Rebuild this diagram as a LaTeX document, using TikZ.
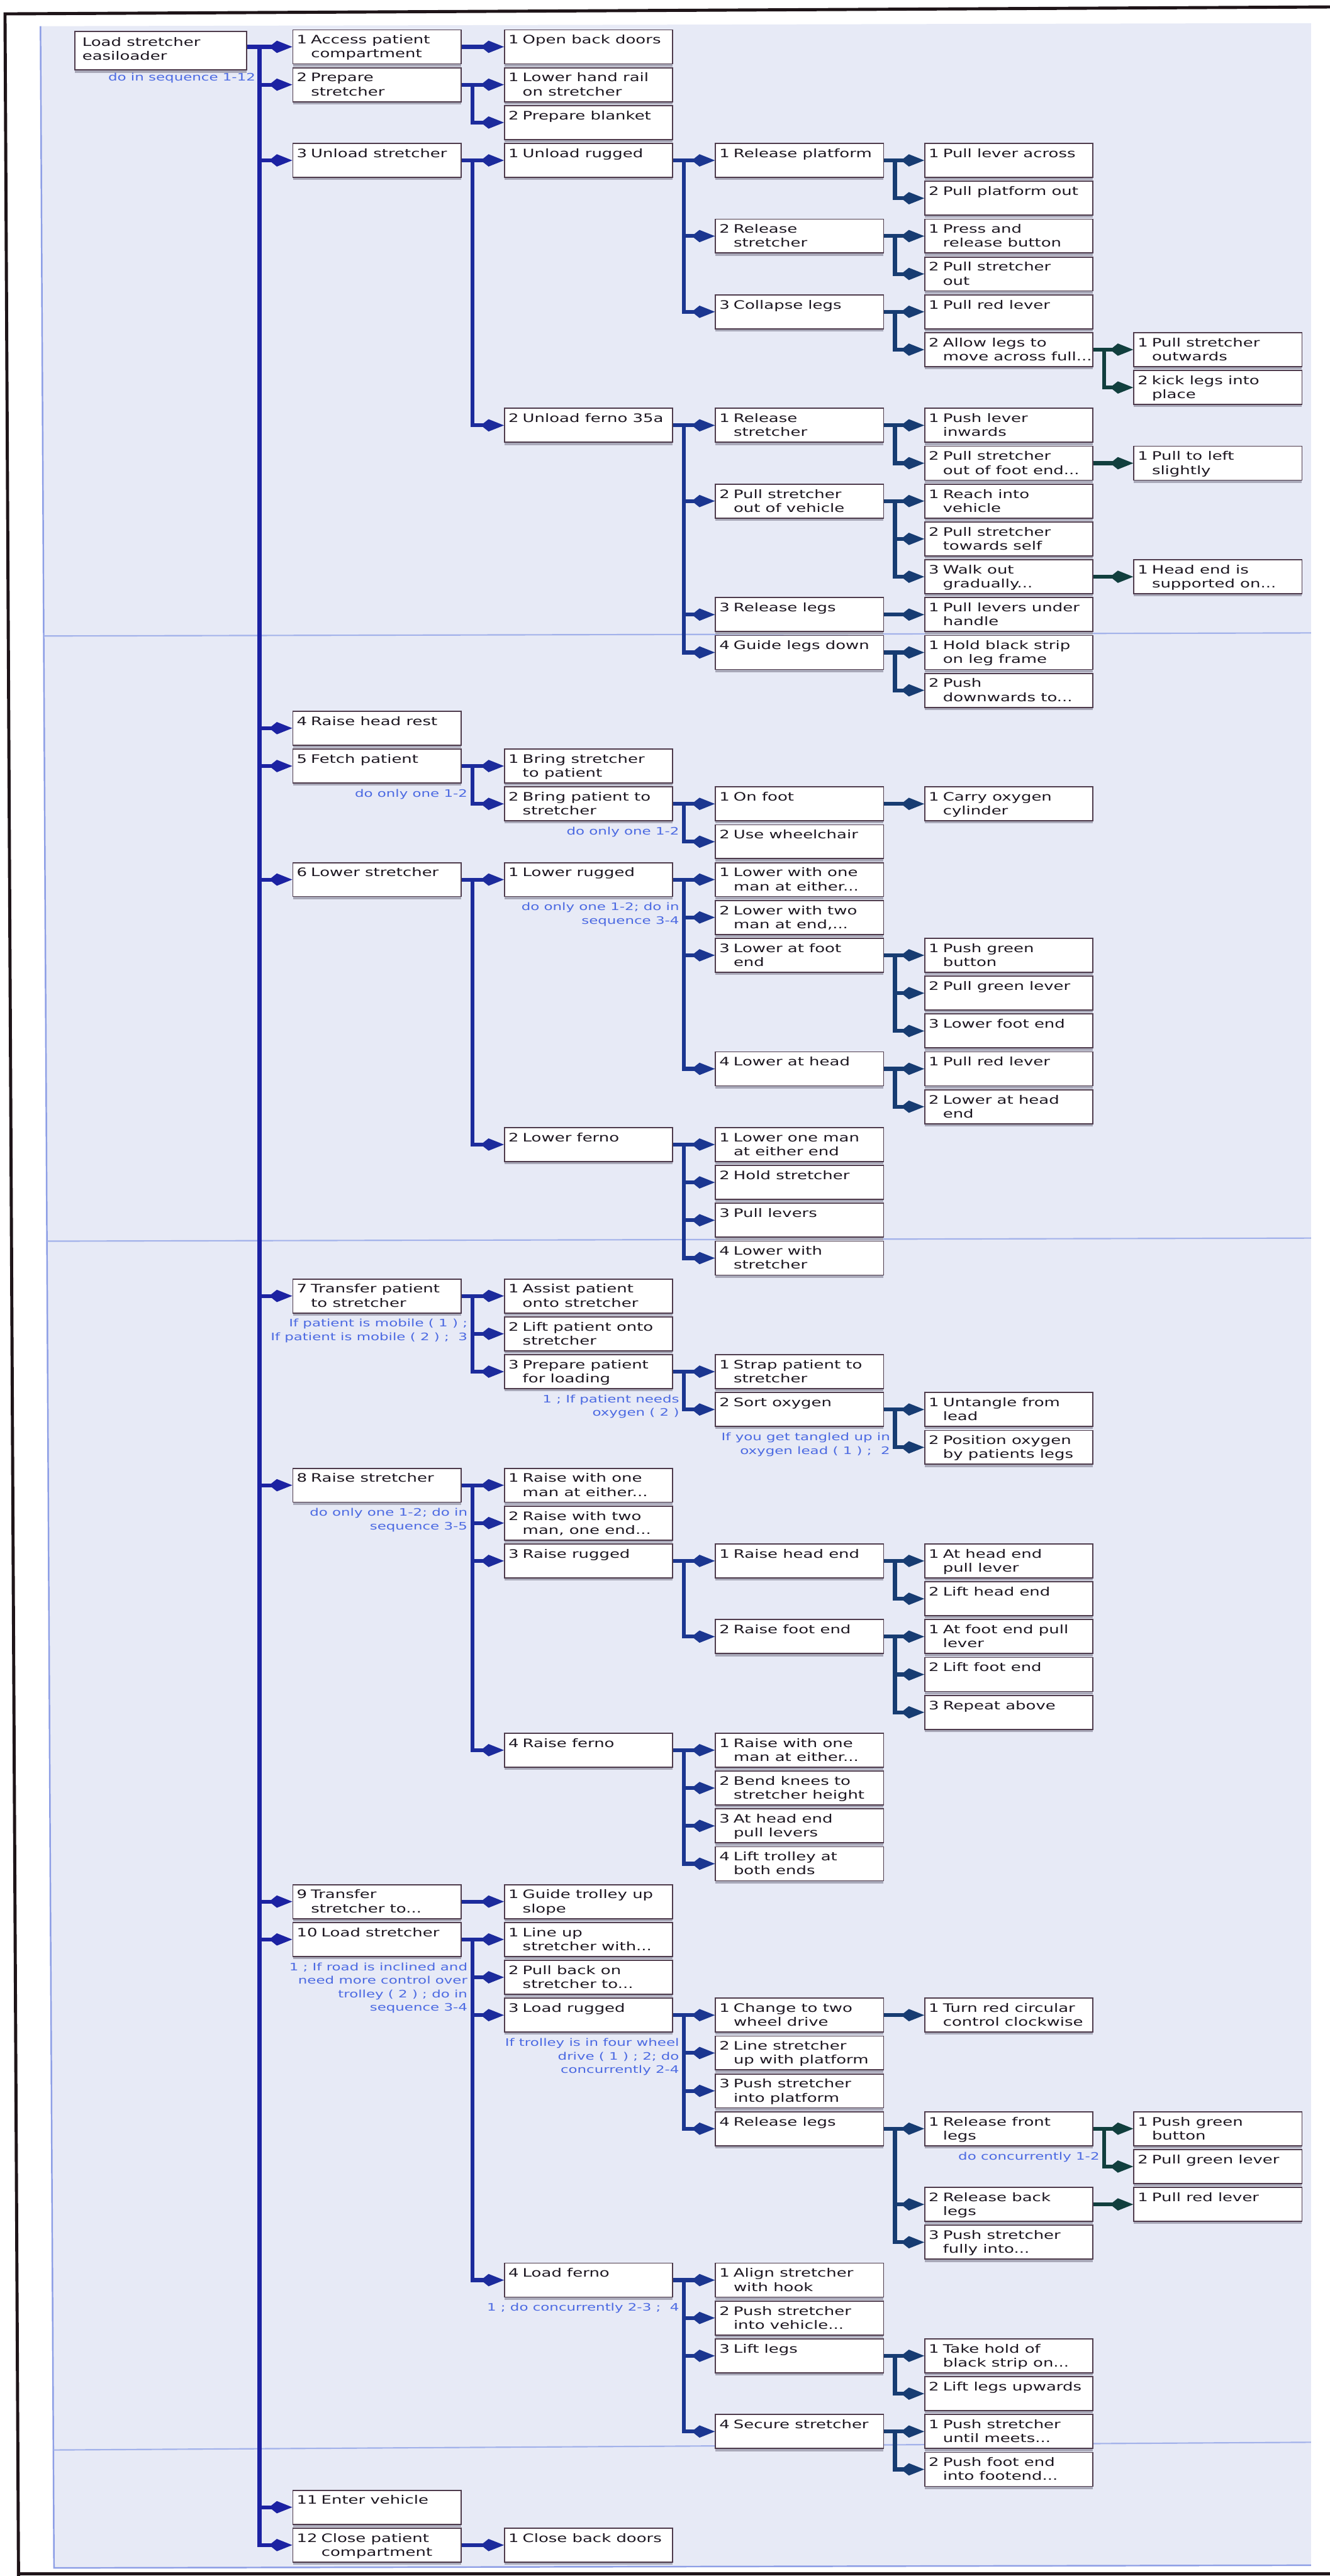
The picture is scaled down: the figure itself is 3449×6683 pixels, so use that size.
\documentclass[tikz,border=0pt]{standalone}
\usepackage{fontspec}
\usetikzlibrary{arrows.meta,shadows,calc}
\newfontfamily\hfont{DejaVu Sans}[FakeStretch=1.4]

\definecolor{panel}{HTML}{E7EAF6}
\definecolor{panedge}{HTML}{8E9FE6}
\definecolor{panline}{HTML}{A3B2EA}
\definecolor{frameblk}{HTML}{1E1418}
\definecolor{boxline}{HTML}{4E3B4C}
\definecolor{boxshadow}{HTML}{A9A9B9}
\definecolor{txt}{HTML}{1C1620}
\definecolor{annblue}{HTML}{4C6AE2}
\definecolor{cz}{HTML}{1C22A2}
\definecolor{ca}{HTML}{1C2B9C}
\definecolor{cb}{HTML}{1B3690}
\definecolor{cc}{HTML}{173C72}
\definecolor{cd}{HTML}{113F3E}

% text of one task box: number, then the (possibly two-line) description
\newcommand\tasktext[2]{\parbox[c][8.8mm][t]{41.6mm}{\vspace*{1.1mm}\hfont\fontsize{8.6pt}{10.3pt}\selectfont\color{txt}%
\begin{tabular}[t]{@{}l@{\hspace{1mm}}l@{}}#1&\begin{tabular}[t]{@{}l@{}}#2\end{tabular}\end{tabular}}}

% column left edges and row pitch
\def\cA{758}\def\cB{1307}\def\cC{1854}\def\cD{2397}\def\cE{2939}
\newcommand\tnode[5]{\node[box] (#1) at (#2,{76+98.2*#3}) {\tasktext{#4}{#5}};}
\newcommand\branch[3]{\foreach \k in {#3}{\draw[#2] (#1.east) -- ++(28,0) |- (\k.west);}}
\newcommand\plannote[3]{\node[ann] (#1) at ($(#2.south east)+(16,14)$) {#3};}

\tikzset{
  box/.style={draw=boxline, line width=0.3mm, fill=white, inner xsep=1mm, inner ysep=0mm,
    anchor=north west, drop shadow={shadow xshift=0mm, shadow yshift=-0.7mm, fill=boxshadow, opacity=1}},
  ann/.style={anchor=north east, align=right, inner sep=0pt, text=annblue,
    font=\hfont\fontsize{7.6pt}{10pt}\selectfont},
  lk/.style={line width=1mm, -{Kite[length=6mm,width=3.2mm,inset=2mm]}},
  lz/.style={lk, draw=cz}, la/.style={lk, draw=ca}, lb/.style={lk, draw=cb},
  lc/.style={lk, draw=cc}, ld/.style={lk, draw=cd}
}

\begin{document}
\begin{tikzpicture}[x=0.1mm, y=-0.1mm]
\useasboundingbox (0,0) rectangle (3449,6683);
% page, tinted sheet and its ruled lines
\fill[white] (0,0) rectangle (3449,6683);
\fill[panel] (105,68) -- (3400,60) -- (3400,6655) -- (140,6662) -- cycle;
\draw[panedge, line width=0.4mm] (105,68) -- (140,6662) -- (3400,6655);
\draw[panline, line width=0.35mm] (114,1650) -- (3400,1642);
\draw[panline, line width=0.35mm] (122,3220) -- (3400,3212);
\draw[panline, line width=0.35mm] (139,6356) -- (3400,6336);
\draw[frameblk, line width=0.8mm] (3449,18) -- (13,36) -- (48,6683);
\draw[frameblk, line width=0.8mm] (48,6677) -- (3449,6677);

% root task
\node[draw=boxline, line width=0.3mm, fill=white, inner xsep=2mm, inner ysep=0mm, anchor=north west,
  drop shadow={shadow xshift=0mm, shadow yshift=-0.7mm, fill=boxshadow, opacity=1}] (root) at (192,80)
  {\parbox[c][10mm][t]{40.6mm}{\vspace*{1.3mm}\hfont\fontsize{8.6pt}{10.3pt}\selectfont\color{txt}%
  \begin{tabular}[t]{@{}l@{}}Load stretcher\\easiloader\end{tabular}}};

% level 1
\tnode{t1}{\cA}{0}{1}{Access patient\\compartment}
\tnode{t2}{\cA}{1}{2}{Prepare\\stretcher}
\tnode{t3}{\cA}{3}{3}{Unload stretcher}
\tnode{t4}{\cA}{18}{4}{Raise head rest}
\tnode{t5}{\cA}{19}{5}{Fetch patient}
\tnode{t6}{\cA}{22}{6}{Lower stretcher}
\tnode{t7}{\cA}{33}{7}{Transfer patient\\to stretcher}
\tnode{t8}{\cA}{38}{8}{Raise stretcher}
\tnode{t9}{\cA}{49}{9}{Transfer\\stretcher to...}
\tnode{t10}{\cA}{50}{10}{Load stretcher}
\tnode{t11}{\cA}{65}{11}{Enter vehicle}
\tnode{t12}{\cA}{66}{12}{Close patient\\compartment}

% level 2
\tnode{t1x1}{\cB}{0}{1}{Open back doors}
\tnode{t2x1}{\cB}{1}{1}{Lower hand rail\\on stretcher}
\tnode{t2x2}{\cB}{2}{2}{Prepare blanket}
\tnode{t3x1}{\cB}{3}{1}{Unload rugged}
\tnode{t3x2}{\cB}{10}{2}{Unload ferno 35a}
\tnode{t5x1}{\cB}{19}{1}{Bring stretcher\\to patient}
\tnode{t5x2}{\cB}{20}{2}{Bring patient to\\stretcher}
\tnode{t6x1}{\cB}{22}{1}{Lower rugged}
\tnode{t6x2}{\cB}{29}{2}{Lower ferno}
\tnode{t7x1}{\cB}{33}{1}{Assist patient\\onto stretcher}
\tnode{t7x2}{\cB}{34}{2}{Lift patient onto\\stretcher}
\tnode{t7x3}{\cB}{35}{3}{Prepare patient\\for loading}
\tnode{t8x1}{\cB}{38}{1}{Raise with one\\man at either...}
\tnode{t8x2}{\cB}{39}{2}{Raise with two\\man, one end...}
\tnode{t8x3}{\cB}{40}{3}{Raise rugged}
\tnode{t8x4}{\cB}{45}{4}{Raise ferno}
\tnode{t9x1}{\cB}{49}{1}{Guide trolley up\\slope}
\tnode{t10x1}{\cB}{50}{1}{Line up\\stretcher with...}
\tnode{t10x2}{\cB}{51}{2}{Pull back on\\stretcher to...}
\tnode{t10x3}{\cB}{52}{3}{Load rugged}
\tnode{t10x4}{\cB}{59}{4}{Load ferno}
\tnode{t12x1}{\cB}{66}{1}{Close back doors}

% level 3
\tnode{t3x1x1}{\cC}{3}{1}{Release platform}
\tnode{t3x1x2}{\cC}{5}{2}{Release\\stretcher}
\tnode{t3x1x3}{\cC}{7}{3}{Collapse legs}
\tnode{t3x2x1}{\cC}{10}{1}{Release\\stretcher}
\tnode{t3x2x2}{\cC}{12}{2}{Pull stretcher\\out of vehicle}
\tnode{t3x2x3}{\cC}{15}{3}{Release legs}
\tnode{t3x2x4}{\cC}{16}{4}{Guide legs down}
\tnode{t5x2x1}{\cC}{20}{1}{On foot}
\tnode{t5x2x2}{\cC}{21}{2}{Use wheelchair}
\tnode{t6x1x1}{\cC}{22}{1}{Lower with one\\man at either...}
\tnode{t6x1x2}{\cC}{23}{2}{Lower with two\\man at end,...}
\tnode{t6x1x3}{\cC}{24}{3}{Lower at foot\\end}
\tnode{t6x1x4}{\cC}{27}{4}{Lower at head}
\tnode{t6x2x1}{\cC}{29}{1}{Lower one man\\at either end}
\tnode{t6x2x2}{\cC}{30}{2}{Hold stretcher}
\tnode{t6x2x3}{\cC}{31}{3}{Pull levers}
\tnode{t6x2x4}{\cC}{32}{4}{Lower with\\stretcher}
\tnode{t7x3x1}{\cC}{35}{1}{Strap patient to\\stretcher}
\tnode{t7x3x2}{\cC}{36}{2}{Sort oxygen}
\tnode{t8x3x1}{\cC}{40}{1}{Raise head end}
\tnode{t8x3x2}{\cC}{42}{2}{Raise foot end}
\tnode{t8x4x1}{\cC}{45}{1}{Raise with one\\man at either...}
\tnode{t8x4x2}{\cC}{46}{2}{Bend knees to\\stretcher height}
\tnode{t8x4x3}{\cC}{47}{3}{At head end\\pull levers}
\tnode{t8x4x4}{\cC}{48}{4}{Lift trolley at\\both ends}
\tnode{t10x3x1}{\cC}{52}{1}{Change to two\\wheel drive}
\tnode{t10x3x2}{\cC}{53}{2}{Line stretcher\\up with platform}
\tnode{t10x3x3}{\cC}{54}{3}{Push stretcher\\into platform}
\tnode{t10x3x4}{\cC}{55}{4}{Release legs}
\tnode{t10x4x1}{\cC}{59}{1}{Align stretcher\\with hook}
\tnode{t10x4x2}{\cC}{60}{2}{Push stretcher\\into vehicle...}
\tnode{t10x4x3}{\cC}{61}{3}{Lift legs}
\tnode{t10x4x4}{\cC}{63}{4}{Secure stretcher}

% level 4
\tnode{t3x1x1x1}{\cD}{3}{1}{Pull lever across}
\tnode{t3x1x1x2}{\cD}{4}{2}{Pull platform out}
\tnode{t3x1x2x1}{\cD}{5}{1}{Press and\\release button}
\tnode{t3x1x2x2}{\cD}{6}{2}{Pull stretcher\\out}
\tnode{t3x1x3x1}{\cD}{7}{1}{Pull red lever}
\tnode{t3x1x3x2}{\cD}{8}{2}{Allow legs to\\move across full...}
\tnode{t3x2x1x1}{\cD}{10}{1}{Push lever\\inwards}
\tnode{t3x2x1x2}{\cD}{11}{2}{Pull stretcher\\out of foot end...}
\tnode{t3x2x2x1}{\cD}{12}{1}{Reach into\\vehicle}
\tnode{t3x2x2x2}{\cD}{13}{2}{Pull stretcher\\towards self}
\tnode{t3x2x2x3}{\cD}{14}{3}{Walk out\\gradually...}
\tnode{t3x2x3x1}{\cD}{15}{1}{Pull levers under\\handle}
\tnode{t3x2x4x1}{\cD}{16}{1}{Hold black strip\\on leg frame}
\tnode{t3x2x4x2}{\cD}{17}{2}{Push\\downwards to...}
\tnode{t5x2x1x1}{\cD}{20}{1}{Carry oxygen\\cylinder}
\tnode{t6x1x3x1}{\cD}{24}{1}{Push green\\button}
\tnode{t6x1x3x2}{\cD}{25}{2}{Pull green lever}
\tnode{t6x1x3x3}{\cD}{26}{3}{Lower foot end}
\tnode{t6x1x4x1}{\cD}{27}{1}{Pull red lever}
\tnode{t6x1x4x2}{\cD}{28}{2}{Lower at head\\end}
\tnode{t7x3x2x1}{\cD}{36}{1}{Untangle from\\lead}
\tnode{t7x3x2x2}{\cD}{37}{2}{Position oxygen\\by patients legs}
\tnode{t8x3x1x1}{\cD}{40}{1}{At head end\\pull lever}
\tnode{t8x3x1x2}{\cD}{41}{2}{Lift head end}
\tnode{t8x3x2x1}{\cD}{42}{1}{At foot end pull\\lever}
\tnode{t8x3x2x2}{\cD}{43}{2}{Lift foot end}
\tnode{t8x3x2x3}{\cD}{44}{3}{Repeat above}
\tnode{t10x3x1x1}{\cD}{52}{1}{Turn red circular\\control clockwise}
\tnode{t10x3x4x1}{\cD}{55}{1}{Release front\\legs}
\tnode{t10x3x4x2}{\cD}{57}{2}{Release back\\legs}
\tnode{t10x3x4x3}{\cD}{58}{3}{Push stretcher\\fully into...}
\tnode{t10x4x3x1}{\cD}{61}{1}{Take hold of\\black strip on...}
\tnode{t10x4x3x2}{\cD}{62}{2}{Lift legs upwards}
\tnode{t10x4x4x1}{\cD}{63}{1}{Push stretcher\\until meets...}
\tnode{t10x4x4x2}{\cD}{64}{2}{Push foot end\\into footend...}

% level 5
\tnode{t3x1x3x2x1}{\cE}{8}{1}{Pull stretcher\\outwards}
\tnode{t3x1x3x2x2}{\cE}{9}{2}{kick legs into\\place}
\tnode{t3x2x1x2x1}{\cE}{11}{1}{Pull to left\\slightly}
\tnode{t3x2x2x3x1}{\cE}{14}{1}{Head end is\\supported on...}
\tnode{t10x3x4x1x1}{\cE}{55}{1}{Push green\\button}
\tnode{t10x3x4x1x2}{\cE}{56}{2}{Pull green lever}
\tnode{t10x3x4x2x1}{\cE}{57}{1}{Pull red lever}

% plans
\node[ann] (nroot) at ($(root.south east)+(22,6)$) {do in sequence 1-12};
\plannote{n5}{t5}{do only one 1-2}
\plannote{n5x2}{t5x2}{do only one 1-2}
\plannote{n6x1}{t6x1}{do only one 1-2; do in\\sequence 3-4}
\plannote{n7}{t7}{If patient is mobile ( 1 ) ;\\If patient is mobile ( 2 ) ;\ \ 3}
\plannote{n7x3}{t7x3}{1 ; If patient needs\\oxygen ( 2 )}
\plannote{n7x3x2}{t7x3x2}{If you get tangled up in\\oxygen lead ( 1 ) ;\ \ 2}
\plannote{n8}{t8}{do only one 1-2; do in\\sequence 3-5}
\plannote{n10}{t10}{1 ; If road is inclined and\\need more control over\\trolley ( 2 ) ; do in\\sequence 3-4}
\plannote{n10x3}{t10x3}{If trolley is in four wheel\\drive ( 1 ) ; 2; do\\concurrently 2-4}
\plannote{n10x3x4x1}{t10x3x4x1}{do concurrently 1-2}
\plannote{n10x4}{t10x4}{1 ; do concurrently 2-3 ;\ \ 4}

% connectors from the root
\coordinate (rj) at ($(root.east |- t1.west)+(32,0)$);
\draw[lz] (root.east |- t1.west) -- (t1.west);
\foreach \k in {t2,t3,t4,t5,t6,t7,t8,t9,t10,t11,t12}{\draw[lz] (root.east |- t1.west) -- (rj) |- (\k.west);}

% connectors level 1 -> 2
\branch{t1}{la}{t1x1}
\branch{t2}{la}{t2x1,t2x2}
\branch{t3}{la}{t3x1,t3x2}
\branch{t5}{la}{t5x1,t5x2}
\branch{t6}{la}{t6x1,t6x2}
\branch{t7}{la}{t7x1,t7x2,t7x3}
\branch{t8}{la}{t8x1,t8x2,t8x3,t8x4}
\branch{t9}{la}{t9x1}
\branch{t10}{la}{t10x1,t10x2,t10x3,t10x4}
\branch{t12}{la}{t12x1}

% connectors level 2 -> 3
\branch{t3x1}{lb}{t3x1x1,t3x1x2,t3x1x3}
\branch{t3x2}{lb}{t3x2x1,t3x2x2,t3x2x3,t3x2x4}
\branch{t5x2}{lb}{t5x2x1,t5x2x2}
\branch{t6x1}{lb}{t6x1x1,t6x1x2,t6x1x3,t6x1x4}
\branch{t6x2}{lb}{t6x2x1,t6x2x2,t6x2x3,t6x2x4}
\branch{t7x3}{lb}{t7x3x1,t7x3x2}
\branch{t8x3}{lb}{t8x3x1,t8x3x2}
\branch{t8x4}{lb}{t8x4x1,t8x4x2,t8x4x3,t8x4x4}
\branch{t10x3}{lb}{t10x3x1,t10x3x2,t10x3x3,t10x3x4}
\branch{t10x4}{lb}{t10x4x1,t10x4x2,t10x4x3,t10x4x4}

% connectors level 3 -> 4
\branch{t3x1x1}{lc}{t3x1x1x1,t3x1x1x2}
\branch{t3x1x2}{lc}{t3x1x2x1,t3x1x2x2}
\branch{t3x1x3}{lc}{t3x1x3x1,t3x1x3x2}
\branch{t3x2x1}{lc}{t3x2x1x1,t3x2x1x2}
\branch{t3x2x2}{lc}{t3x2x2x1,t3x2x2x2,t3x2x2x3}
\branch{t3x2x3}{lc}{t3x2x3x1}
\branch{t3x2x4}{lc}{t3x2x4x1,t3x2x4x2}
\branch{t5x2x1}{lc}{t5x2x1x1}
\branch{t6x1x3}{lc}{t6x1x3x1,t6x1x3x2,t6x1x3x3}
\branch{t6x1x4}{lc}{t6x1x4x1,t6x1x4x2}
\branch{t7x3x2}{lc}{t7x3x2x1,t7x3x2x2}
\branch{t8x3x1}{lc}{t8x3x1x1,t8x3x1x2}
\branch{t8x3x2}{lc}{t8x3x2x1,t8x3x2x2,t8x3x2x3}
\branch{t10x3x1}{lc}{t10x3x1x1}
\branch{t10x3x4}{lc}{t10x3x4x1,t10x3x4x2,t10x3x4x3}
\branch{t10x4x3}{lc}{t10x4x3x1,t10x4x3x2}
\branch{t10x4x4}{lc}{t10x4x4x1,t10x4x4x2}

% connectors level 4 -> 5
\branch{t3x1x3x2}{ld}{t3x1x3x2x1,t3x1x3x2x2}
\branch{t3x2x1x2}{ld}{t3x2x1x2x1}
\branch{t3x2x2x3}{ld}{t3x2x2x3x1}
\branch{t10x3x4x1}{ld}{t10x3x4x1x1,t10x3x4x1x2}
\branch{t10x3x4x2}{ld}{t10x3x4x2x1}
\end{tikzpicture}
\end{document}
